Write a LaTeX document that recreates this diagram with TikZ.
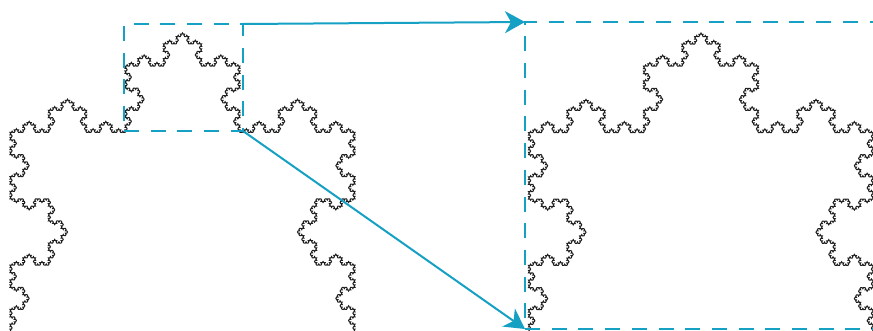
\documentclass[tikz,border=0pt]{standalone}
\usetikzlibrary{lindenmayersystems,arrows.meta}
\definecolor{zoomcyan}{RGB}{22,160,196}
\definecolor{curvegray}{RGB}{30,30,30}
\pgfdeclarelindenmayersystem{Koch}{\rule{F -> F+F--F+F}}
\tikzset{
  kochline/.style={draw=curvegray, line width=1pt, line join=miter},
  zoombox/.style={draw=zoomcyan, line width=2.8pt, dash pattern=on 15pt off 11.7pt,
    rectangle, inner sep=0pt, outer sep=0pt},
  zoomarrow/.style={draw=zoomcyan, line width=2pt,
    -{Stealth[length=20pt, width=22pt, inset=6pt]}},
  kochflake/.style={l-system={Koch, axiom=+F--F--F, order=5, step=1.41975pt, angle=60}}
}
\begin{document}
\begin{tikzpicture}[x=1pt, y=1pt]
\useasboundingbox (0,0) rectangle (873,330);
\clip (0,0) rectangle (873,330);
% left snowflake
\begin{scope}[shift={(10,-1.6)}]
\draw[kochline] (0,0) l-system[kochflake];
\end{scope}
% right snowflake
\begin{scope}[shift={(528.5,-1.8)}]
\draw[kochline] (0,0) l-system[kochflake];
\end{scope}
% zoom frames
\node[zoombox, minimum width=119pt, minimum height=107pt] (small) at (183.5,252.5) {};
\node[zoombox, minimum width=360pt, minimum height=307pt] (big) at (705,154.5) {};
% connectors
\draw[zoomarrow] (small.north east) -- (big.north west);
\draw[zoomarrow] (small.south east) -- (big.south west);
\end{tikzpicture}
\end{document}
